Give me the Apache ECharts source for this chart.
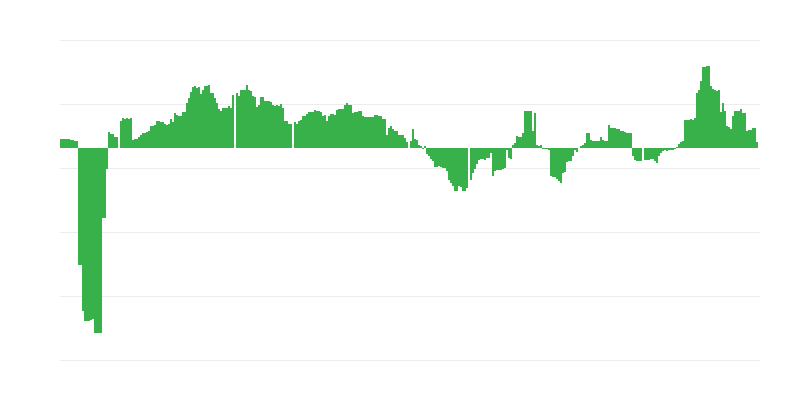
<!DOCTYPE html>
<html>
<head>
<meta charset="utf-8">
<script src="https://cdn.jsdelivr.net/npm/echarts@6/dist/echarts.min.js"></script>
<style>
html,body{margin:0;padding:0;background:#fff;}
#chart{width:800px;height:400px;}
</style>
</head>
<body>
<div id="chart"></div>
<script>
// Series values (one bar per period)
var values1 = [9,9,9,9,9,8,8,7,7,-117,
  -117,-163,-173,-173,-173,-172,-171,-185,-185,-185,
  -185,-70,-70,-21,16,14,14,11,11,0,
  27,30,29,30,29,30,8,9,9,11,
  13,15,15,16,17,22,22,23,27,27,
  26,26,24,23,24,29,26,35,33,32];
var values2 = [32,36,36,45,50,56,61,62,60,61,
  54,58,62,62,63,55,55,50,45,39,
  37,40,40,40,42,40,53,0,55,52,
  58,58,58,63,58,57,52,51,41,43,
  51,51,47,47,47,46,43,42,43,42,
  44,40,27,27,24,24,0,26,24,27];
var values3 = [28,32,32,34,36,36,36,38,37,37,
  36,32,33,27,32,34,34,33,38,39,
  39,39,43,45,43,43,35,36,36,37,
  37,32,31,31,31,31,31,33,33,32,
  32,29,29,13,20,22,19,17,17,13,
  13,13,10,6,0,7,19,9,8,3];
var values4 = [2,-1,2,-6,-8,-11,-13,-19,-19,-18,
  -19,-20,-20,-23,-32,-35,-38,-43,-43,-38,
  -39,-43,-43,-40,0,-32,-25,-21,-16,-12,
  -11,-11,-12,-10,-10,-5,-28,-23,-22,-22,
  -22,-21,-20,-2,-10,-11,3,5,12,11,
  11,15,37,37,37,37,17,35,3,2];
var values5 = [3,-1,-1,-1,-2,-28,-29,-29,-31,-33,
  -35,-25,-24,-14,-13,-13,-8,-2,-4,0,
  2,3,5,15,15,8,7,7,7,7,
  11,8,7,7,23,20,20,20,19,19,
  17,17,16,15,15,15,-8,-12,-13,-13,
  -13,0,-12,-12,-12,-11,-11,-13,-15,-8];
var values6 = [-5,-3,-2,-3,-2,-2,-2,-1,1,4,
  6,7,28,28,28,29,28,30,55,58,
  67,81,81,82,82,62,59,58,57,58,
  36,45,37,22,21,19,32,37,37,37,
  39,35,35,17,18,18,20,20,6,0];

var values = [].concat(values1, values2, values3, values4, values5, values6);
var categories = values.map(function (v, i) { return 'P' + (i + 1); });

// Value-axis tick settings (labels not shown in the reference)
var yMin = -212, yMax = 108, yStep = 64;

var chart = echarts.init(document.getElementById('chart'), null, {renderer: 'canvas'});
chart.setOption({
  animation: false,
  backgroundColor: '#ffffff',
  grid: {left: 60, right: 40, top: 40, bottom: 40, containLabel: false},
  xAxis: {
    type: 'category',
    data: categories,
    axisLine: {show: false},
    axisTick: {show: false},
    axisLabel: {show: false},
    splitLine: {show: false}
  },
  yAxis: {
    type: 'value',
    min: yMin,
    max: yMax,
    interval: yStep,
    axisLine: {show: false},
    axisTick: {show: false},
    axisLabel: {show: false},
    splitLine: {show: true, lineStyle: {color: '#ececec', width: 1}}
  },
  series: [{
    type: 'bar',
    data: values,
    barCategoryGap: '0%',
    itemStyle: {color: '#38b14b'}
  }]
});
</script>
</body>
</html>
